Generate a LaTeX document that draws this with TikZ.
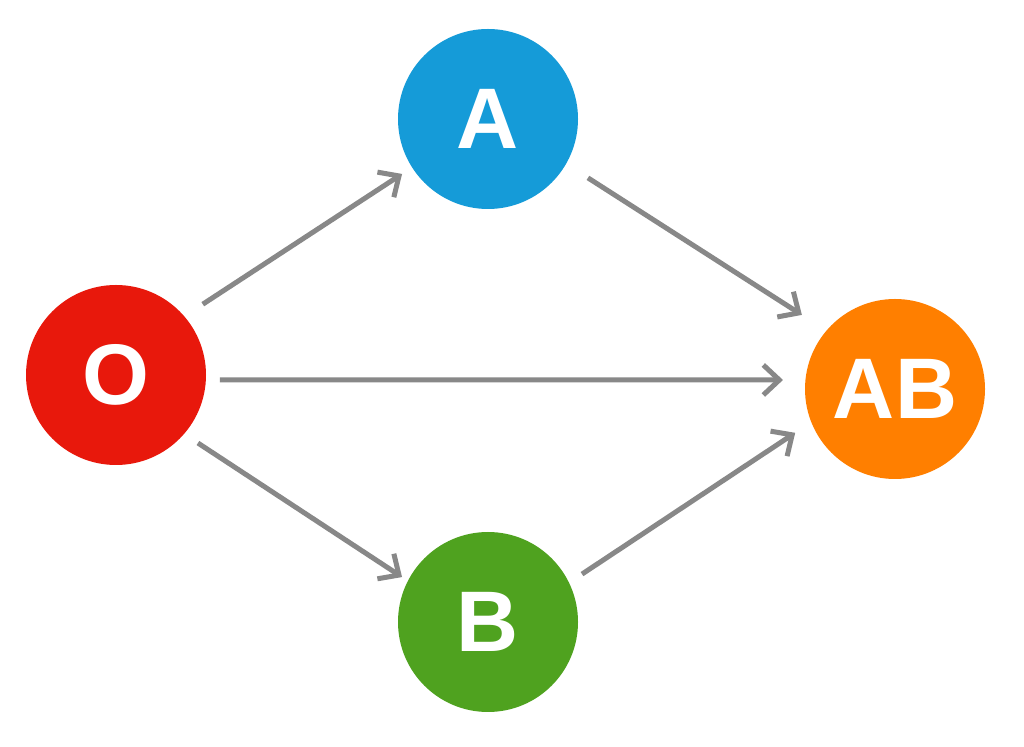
\documentclass[tikz,border=0pt]{standalone}
\usepackage{fontspec}
\setmainfont{Liberation Sans}
\usetikzlibrary{arrows.meta}
\definecolor{cred}{HTML}{E8180C}
\definecolor{cblue}{HTML}{159BD8}
\definecolor{cgreen}{HTML}{4FA21F}
\definecolor{corange}{HTML}{FF7F00}
\definecolor{cgray}{HTML}{888888}
\begin{document}
\begin{tikzpicture}[x=1pt,y=1pt,
  ball/.style={circle,minimum size=180pt,inner sep=0pt,outer sep=0pt,text=white,
    font=\fontsize{86}{86}\selectfont\bfseries},
  arr/.style={draw=cgray,line width=5pt,-{Straight Barb[length=16pt,width=30pt]}}]
\useasboundingbox[fill=white] (0,0) rectangle (1024,746);
\node[ball,fill=cred]    (O)  at (116,371) {O};
\node[ball,fill=cblue]   (A)  at (488,627) {A};
\node[ball,fill=cgreen]  (B)  at (488,124) {B};
\node[ball,fill=corange] (AB) at (895,357) {AB};
\draw[arr] ([shift={(39.2:112)}]O.center) -- ([shift={(212.6:102)}]A.center);
\draw[arr] ([shift={(-30.5:116)}]A.center) -- ([shift={(141.5:119)}]AB.center);
\draw[arr] ([shift={(-2.75:104)}]O.center) -- ([shift={(175.4:112.4)}]AB.center);
\draw[arr] ([shift={(-39.7:106.5)}]O.center) -- ([shift={(152.4:97)}]B.center);
\draw[arr] ([shift={(27:105.5)}]B.center) -- ([shift={(203.7:109)}]AB.center);
\end{tikzpicture}
\end{document}
